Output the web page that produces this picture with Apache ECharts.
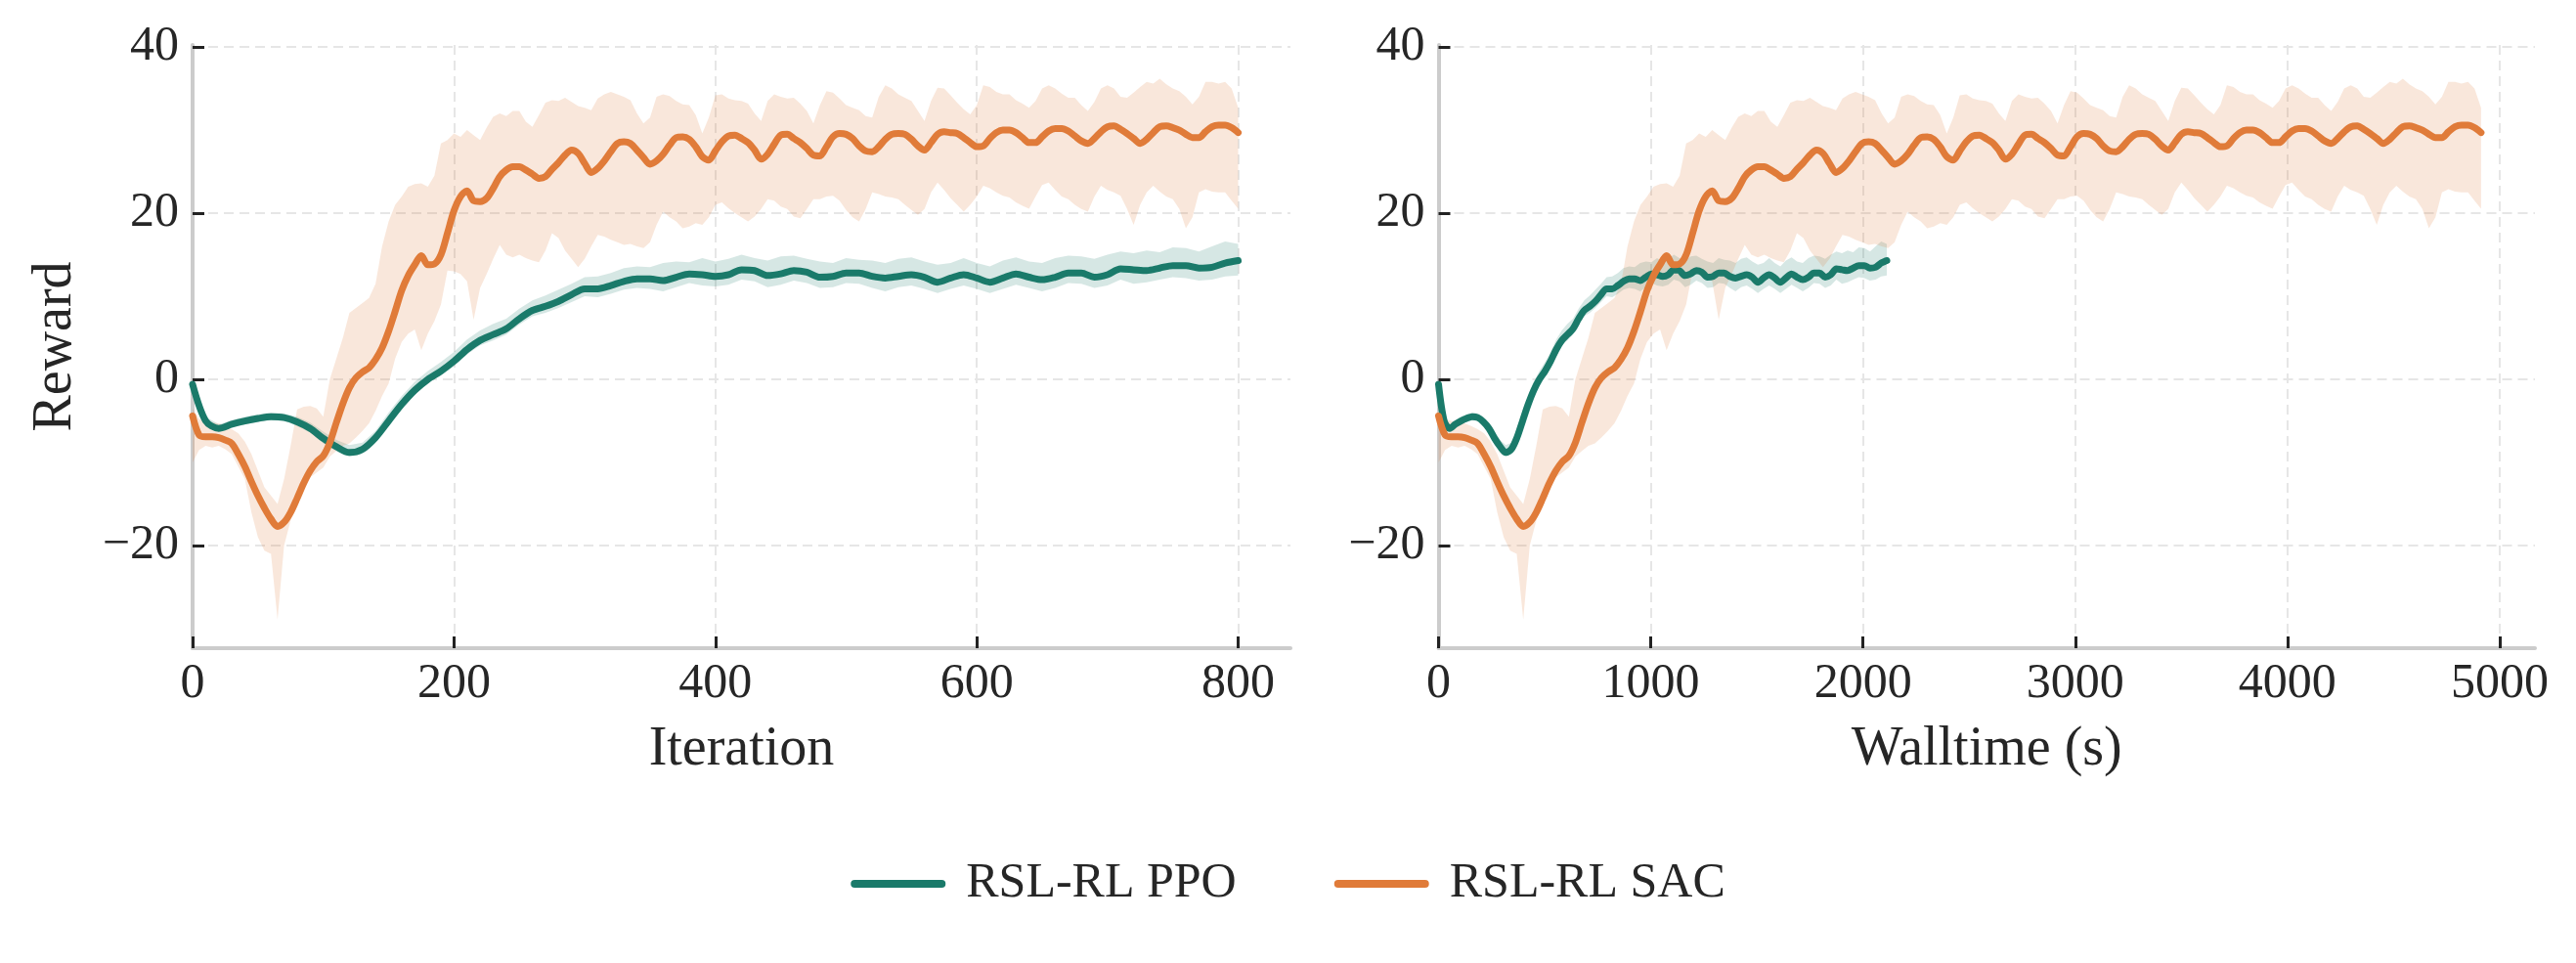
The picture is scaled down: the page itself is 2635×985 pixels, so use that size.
<!DOCTYPE html>
<html>
<head>
<meta charset="utf-8">
<script src="https://cdn.jsdelivr.net/npm/echarts@6/dist/echarts.min.js"></script>
<style>
  html, body { margin: 0; padding: 0; background: #fff; }
  #chart { width: 2635px; height: 985px; }
</style>
</head>
<body>
<div id="chart"></div>
<script>
// sample spacing (iterations) of the logged curves
const ppoStep = 10
const sacStep = 5
// seconds per iteration (end of each run / 800)
const ppoSecPerIter = 2.64
const sacSecPerIter = 6.14

// RSL-RL PPO, every 10 iterations from 0 to 800
const ppoMean = [
  -0.6, -5.0, -5.9, -5.4, -5.0, -4.7, -4.5, -4.6, -5.1, -5.9,
  -7.1, -8.1, -8.8, -8.4, -7.0, -5.0, -3.0, -1.3, 0.0, 1.0,
  2.2, 3.6, 4.7, 5.4, 6.1, 7.3, 8.3, 8.8, 9.4, 10.2,
  10.9, 10.9, 11.3, 11.8, 12.1, 12.1, 11.9, 12.3, 12.7, 12.6,
  12.4, 12.6, 13.2, 13.1, 12.5, 12.7, 13.1, 12.9, 12.3, 12.4,
  12.8, 12.8, 12.4, 12.2, 12.4, 12.6, 12.3, 11.7, 12.2, 12.6,
  12.2, 11.7, 12.2, 12.7, 12.3, 12.0, 12.3, 12.8, 12.8, 12.3,
  12.6, 13.3, 13.2, 13.1, 13.4, 13.7, 13.7, 13.4, 13.5, 14.0,
  14.3
]
const ppoUpper = [
  -0.2, -4.5, -5.4, -4.9, -4.5, -4.2, -4.0, -4.1, -4.5, -5.2,
  -6.3, -7.3, -7.9, -7.6, -6.2, -4.0, -2.0, -0.3, 1.0, 2.1,
  3.3, 4.8, 5.9, 6.7, 7.3, 8.5, 9.5, 10.1, 10.8, 11.5,
  12.3, 12.4, 12.8, 13.4, 13.6, 13.5, 14.0, 14.2, 14.1, 14.6,
  14.2, 14.5, 15.0, 14.6, 14.3, 14.8, 14.9, 14.5, 14.2, 14.0,
  14.6, 14.4, 14.3, 14.0, 14.5, 14.7, 14.2, 13.8, 14.0, 14.6,
  14.0, 13.6, 14.3, 14.7, 14.2, 14.0, 14.6, 14.9, 14.8, 14.5,
  15.0, 15.4, 15.2, 15.5, 15.3, 15.9, 15.8, 15.4, 16.0, 16.6,
  16.3
]
const ppoLower = [
  -1.2, -5.4, -6.3, -5.8, -5.4, -5.1, -4.9, -5.0, -5.6, -6.4,
  -7.7, -8.6, -9.3, -8.9, -7.5, -5.5, -3.5, -1.8, -0.5, 0.5,
  1.6, 3.0, 4.1, 4.7, 5.4, 6.6, 7.6, 8.0, 8.6, 9.3,
  10.0, 9.9, 10.3, 10.8, 11.0, 10.9, 10.6, 11.1, 11.6, 11.3,
  11.2, 11.4, 12.0, 11.8, 11.1, 11.4, 11.9, 11.6, 11.0, 11.1,
  11.6, 11.5, 11.0, 10.6, 11.1, 11.3, 10.9, 10.4, 10.9, 11.3,
  10.9, 10.4, 10.9, 11.4, 11.0, 10.6, 11.0, 11.6, 11.5, 11.0,
  11.3, 12.0, 11.5, 11.7, 12.0, 12.3, 12.2, 11.9, 12.0, 12.4,
  12.5
]

// RSL-RL SAC, every 5 iterations from 0 to 800
const sacMean = [
  -4.4, -6.7, -6.9, -6.9, -7.0, -7.3, -7.7, -9.0, -10.5, -12.3,
  -14.0, -15.5, -16.8, -17.7, -17.2, -16.0, -14.3, -12.5, -11.0, -9.9,
  -9.2, -7.6, -5.2, -2.9, -1.0, 0.2, 0.9, 1.4, 2.4, 3.8,
  5.8, 8.2, 10.7, 12.5, 13.8, 14.9, 13.8, 13.9, 15.0, 17.6,
  20.3, 22.0, 22.7, 21.5, 21.4, 21.8, 23.0, 24.4, 25.2, 25.6,
  25.6, 25.2, 24.7, 24.2, 24.4, 25.3, 26.1, 27.0, 27.6, 27.2,
  26.0, 24.9, 25.4, 26.3, 27.4, 28.4, 28.6, 28.4, 27.6, 26.7,
  25.9, 26.3, 27.1, 28.2, 29.1, 29.2, 28.9, 28.0, 26.8, 26.4,
  27.5, 28.6, 29.3, 29.4, 29.0, 28.5, 27.6, 26.5, 27.1, 28.3,
  29.4, 29.5, 29.0, 28.5, 27.8, 27.0, 26.9, 28.0, 29.2, 29.6,
  29.5, 29.0, 28.1, 27.5, 27.4, 28.0, 28.9, 29.5, 29.6, 29.5,
  28.9, 28.1, 27.6, 28.5, 29.5, 29.8, 29.7, 29.6, 29.1, 28.5,
  28.0, 28.1, 29.0, 29.7, 30.0, 30.0, 29.7, 29.1, 28.5, 28.5,
  29.2, 29.9, 30.2, 30.2, 29.9, 29.3, 28.7, 28.4, 29.0, 29.8,
  30.4, 30.5, 30.1, 29.6, 29.0, 28.4, 28.9, 29.7, 30.4, 30.5,
  30.3, 30.0, 29.5, 29.1, 29.1, 29.8, 30.4, 30.6, 30.6, 30.3,
  29.7
]
const sacUpper = [
  -3.5, -4.8, -5.0, -5.2, -5.3, -5.6, -6.0, -6.5, -7.5, -9.0,
  -11.0, -13.0, -14.0, -15.0, -12.0, -8.0, -3.6, -3.3, -3.2, -3.5,
  -4.5, 0.0, 2.5, 5.0, 8.0, 8.6, 9.2, 9.8, 11.5, 16.0,
  19.0, 21.0, 22.0, 23.2, 23.5, 23.6, 23.2, 24.5, 28.4, 28.8,
  29.6, 29.2, 30.0, 29.4, 28.8, 30.3, 31.6, 32.0, 31.7, 32.3,
  32.3, 31.0, 30.4, 31.8, 33.3, 33.6, 33.5, 33.9, 33.4, 32.9,
  32.7, 32.4, 33.8, 34.3, 34.6, 34.3, 34.0, 33.6, 32.0, 30.8,
  31.5, 34.0, 34.3, 34.1, 33.5, 33.1, 33.0, 31.8, 29.6, 31.5,
  34.2, 34.3, 33.8, 33.6, 33.5, 33.2, 32.0, 31.1, 33.5, 34.3,
  34.0, 33.8, 33.9, 33.2, 32.3, 30.8, 33.0, 34.7, 34.5, 33.8,
  33.0, 32.7, 32.4, 31.7, 31.5, 34.0, 35.4, 35.0, 34.3, 33.9,
  33.5, 32.3, 31.1, 33.5, 35.1, 35.0, 34.2, 33.3, 32.5, 31.9,
  33.0, 35.4, 35.2, 34.6, 34.3, 34.3, 33.6, 33.2, 32.7, 33.5,
  35.0, 35.4, 35.0, 34.4, 33.9, 33.9, 33.0, 32.3, 33.4, 35.0,
  35.4, 35.0, 34.0, 33.9, 34.5, 35.2, 35.8, 35.6, 36.2, 35.5,
  35.0, 34.7, 34.0, 33.1, 34.0, 35.8, 35.8, 35.6, 35.8, 35.0,
  32.7
]
const sacLower = [
  -10.0, -8.5, -8.0, -8.2, -8.0, -8.4, -9.0, -10.5, -12.0, -16.0,
  -19.0, -20.6, -21.0, -28.9, -20.0, -17.0, -14.5, -13.0, -11.8, -11.2,
  -10.6, -9.3, -8.6, -8.0, -7.7, -7.0, -6.2, -5.3, -3.8, -2.0,
  -0.5, 2.5, 4.5, 5.5, 6.0, 3.5, 5.5, 7.0, 9.0, 13.1,
  13.0, 12.7, 11.8, 7.2, 11.0, 12.7, 14.5, 16.2, 15.0, 14.7,
  15.0, 14.6, 14.3, 14.1, 15.5, 17.6, 17.0, 15.5, 14.5, 13.5,
  14.5, 16.0, 17.4, 17.2, 16.8, 16.5, 16.2, 16.3, 16.0, 15.8,
  16.5, 18.6, 20.2, 19.5, 19.0, 18.2, 18.4, 18.8, 18.6, 19.5,
  21.0, 21.3, 20.6, 20.0, 19.5, 19.0, 19.6, 20.5, 21.7, 21.5,
  20.8, 20.5, 19.6, 19.4, 20.5, 21.7, 21.7, 22.0, 22.1, 21.5,
  20.4, 19.5, 19.0, 20.5, 22.5, 22.3, 22.0, 21.9, 21.7, 21.0,
  20.4, 19.8, 20.5, 22.5, 23.7, 22.8, 21.8, 21.0, 20.2, 21.0,
  22.0, 23.3, 23.0, 22.5, 22.1, 21.9, 21.3, 20.9, 20.55, 22.0,
  23.4, 23.7, 22.8, 22.0, 21.7, 21.0, 20.5, 20.2, 22.0, 23.3,
  22.8, 22.5, 22.1, 20.5, 18.6, 21.0, 22.5, 23.3, 22.6, 22.0,
  21.7, 20.5, 18.2, 19.5, 22.5, 22.9, 22.6, 22.5, 22.5, 21.5,
  20.55
]

const iterTicks = [0, 200, 400, 600, 800]
const wallTicks = [0, 1000, 2000, 3000, 4000, 5000]
const rewardTicks = [-20, 0, 20, 40]

const teal = '#1a7a6a'
const orange = '#e07b39'
const font = 'Liberation Serif'

const chart = echarts.init(document.getElementById('chart'))

function pairs(xs, ys) {
  return ys.map((y, i) => [xs[i], y])
}

const ppoIter = ppoMean.map((_, i) => i * ppoStep)
const sacIter = sacMean.map((_, i) => i * sacStep)
const ppoWall = ppoIter.map(it => it * ppoSecPerIter)
const sacWall = sacIter.map(it => it * sacSecPerIter)

// shaded min/max band, drawn as one polygon through the axis scales
function bandSeries(xs, lo, hi, color, axis) {
  return {
    type: 'custom', xAxisIndex: axis, yAxisIndex: axis, silent: true, z: 1,
    data: xs.map((x, i) => [x, lo[i], hi[i]]),
    encode: { x: 0, y: [1, 2] },
    renderItem: function (params, api) {
      if (params.dataIndex !== 0) return null
      const top = xs.map((x, i) => api.coord([x, hi[i]]))
      const bottom = xs.map((x, i) => api.coord([x, lo[i]])).reverse()
      return {
        type: 'polygon',
        shape: { points: top.concat(bottom) },
        style: { fill: color }
      }
    }
  }
}

function meanSeries(name, xs, ys, color, axis, z) {
  return {
    type: 'line', name: name, xAxisIndex: axis, yAxisIndex: axis,
    data: pairs(xs, ys), showSymbol: false, symbol: 'none', smooth: 0.3,
    lineStyle: { color: color, width: 7, cap: 'round', join: 'round' },
    itemStyle: { color: color }, z: z
  }
}

// rich text keeps the serif face on tick labels and legend
const serif = (size) => ({ t: { fontFamily: font, fontSize: size, color: '#262626' } })
const tickStyle = { show: true, inside: true, length: 12, lineStyle: { color: '#222', width: 3 } }
const splitStyle = { show: true, lineStyle: { color: '#e6e6e6', width: 2, type: [10, 6] } }
const nameStyle = { fontFamily: font, fontSize: 56, color: '#262626' }
const fmt = v => '{t|' + (v < 0 ? '\u2212' + Math.abs(v) : String(v)) + '}'

function xAxis(grid, max, ticks, name) {
  return {
    type: 'value', gridIndex: grid, min: 0, max: max,
    axisLine: { show: true, onZero: false, lineStyle: { color: '#cccccc', width: 4 } },
    axisTick: Object.assign({ customValues: ticks }, tickStyle),
    axisLabel: {
      customValues: ticks, margin: 12, formatter: fmt,
      fontFamily: font, fontSize: 50, color: '#262626', rich: serif(50)
    },
    splitLine: splitStyle,
    name: name, nameLocation: 'middle', nameGap: 76, nameTextStyle: nameStyle
  }
}

function yAxis(grid, name) {
  return {
    type: 'value', gridIndex: grid, min: -32.35, max: 40.25,
    axisLine: { show: true, onZero: false, lineStyle: { color: '#cccccc', width: 4 } },
    axisTick: Object.assign({ customValues: rewardTicks }, tickStyle),
    axisLabel: {
      customValues: rewardTicks, margin: 14, formatter: fmt,
      fontFamily: font, fontSize: 50, color: '#262626', rich: serif(50)
    },
    splitLine: splitStyle,
    name: name, nameLocation: 'middle', nameRotate: 90, nameGap: 112, nameTextStyle: nameStyle
  }
}

const option = {
  animation: false,
  backgroundColor: '#ffffff',
  textStyle: { fontFamily: font, color: '#262626' },
  grid: [
    { left: 197, top: 46, width: 1123, height: 617 },
    { left: 1471.5, top: 46, width: 1121.5, height: 617 }
  ],
  xAxis: [
    xAxis(0, 840, iterTicks, 'Iteration'),
    xAxis(1, 5166, wallTicks, 'Walltime (s)')
  ],
  yAxis: [
    yAxis(0, 'Reward'),
    yAxis(1, '')
  ],
  legend: {
    data: [
      { name: 'RSL-RL PPO', icon: 'path://M4,0H93A4,4,0,0,1,93,8H4A4,4,0,0,1,4,0Z' },
      { name: 'RSL-RL SAC', icon: 'path://M4,0H93A4,4,0,0,1,93,8H4A4,4,0,0,1,4,0Z' }
    ],
    left: 'center', top: 874,
    itemWidth: 97, itemHeight: 8, itemGap: 100,
    formatter: name => '{t|' + name + '}',
    textStyle: {
      fontFamily: font, fontSize: 50, color: '#262626',
      padding: [0, 0, 0, 16], rich: serif(50)
    }
  },
  series: [
    bandSeries(ppoIter, ppoLower, ppoUpper, 'rgba(26,122,106,0.18)', 0),
    bandSeries(sacIter, sacLower, sacUpper, 'rgba(224,123,57,0.18)', 0),
    bandSeries(ppoWall, ppoLower, ppoUpper, 'rgba(26,122,106,0.18)', 1),
    bandSeries(sacWall, sacLower, sacUpper, 'rgba(224,123,57,0.18)', 1),
    meanSeries('RSL-RL PPO', ppoIter, ppoMean, teal, 0, 3),
    meanSeries('RSL-RL SAC', sacIter, sacMean, orange, 0, 4),
    meanSeries('RSL-RL PPO', ppoWall, ppoMean, teal, 1, 3),
    meanSeries('RSL-RL SAC', sacWall, sacMean, orange, 1, 4)
  ]
}

chart.setOption(option)
</script>
</body>
</html>
